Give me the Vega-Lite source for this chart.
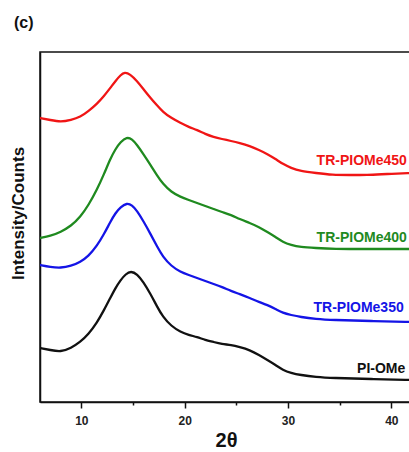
{
  "$schema": "https://vega.github.io/schema/vega-lite/v6.json",
  "autosize": "none",
  "width": 372,
  "height": 350,
  "padding": {"left": 40, "top": 52, "right": 0, "bottom": 50},
  "background": "white",
  "title": {"text": "(c)", "anchor": "start", "frame": "group", "dx": -26, "offset": 21, "fontSize": 16, "fontWeight": "bold", "font": "Liberation Sans", "color": "#111"},
  "config": {
    "font": "Liberation Sans",
    "view": {"stroke": "#111", "strokeWidth": 1.5},
    "axis": {"grid": false, "domainColor": "#111", "domainWidth": 1.5, "tickColor": "#111", "tickWidth": 1.5}
  },
  "datasets": {
    "curves": [
      {"sample":"TR-PIOMe450","two_theta":6,"intensity":284},{"sample":"TR-PIOMe450","two_theta":7,"intensity":282},{"sample":"TR-PIOMe450","two_theta":8,"intensity":280},{"sample":"TR-PIOMe450","two_theta":9,"intensity":282},{"sample":"TR-PIOMe450","two_theta":9.9,"intensity":285},{"sample":"TR-PIOMe450","two_theta":10.7,"intensity":291},{"sample":"TR-PIOMe450","two_theta":11.5,"intensity":298},{"sample":"TR-PIOMe450","two_theta":12.2,"intensity":306},{"sample":"TR-PIOMe450","two_theta":12.8,"intensity":314},{"sample":"TR-PIOMe450","two_theta":13.3,"intensity":321},{"sample":"TR-PIOMe450","two_theta":13.8,"intensity":327},{"sample":"TR-PIOMe450","two_theta":14.2,"intensity":330},{"sample":"TR-PIOMe450","two_theta":14.7,"intensity":328},{"sample":"TR-PIOMe450","two_theta":15.4,"intensity":321},{"sample":"TR-PIOMe450","two_theta":16.0,"intensity":313},{"sample":"TR-PIOMe450","two_theta":16.7,"intensity":304},{"sample":"TR-PIOMe450","two_theta":17.3,"intensity":297},{"sample":"TR-PIOMe450","two_theta":17.9,"intensity":290},{"sample":"TR-PIOMe450","two_theta":18.7,"intensity":284},{"sample":"TR-PIOMe450","two_theta":19.6,"intensity":279},{"sample":"TR-PIOMe450","two_theta":20.4,"intensity":275},{"sample":"TR-PIOMe450","two_theta":21.2,"intensity":272},{"sample":"TR-PIOMe450","two_theta":22.0,"intensity":268},{"sample":"TR-PIOMe450","two_theta":22.8,"intensity":265},{"sample":"TR-PIOMe450","two_theta":23.6,"intensity":263},{"sample":"TR-PIOMe450","two_theta":24.5,"intensity":261},{"sample":"TR-PIOMe450","two_theta":25.3,"intensity":259},{"sample":"TR-PIOMe450","two_theta":26.3,"intensity":256},{"sample":"TR-PIOMe450","two_theta":27.2,"intensity":252},{"sample":"TR-PIOMe450","two_theta":28.0,"intensity":248},{"sample":"TR-PIOMe450","two_theta":28.8,"intensity":243},{"sample":"TR-PIOMe450","two_theta":29.5,"intensity":238},{"sample":"TR-PIOMe450","two_theta":30.3,"intensity":234},{"sample":"TR-PIOMe450","two_theta":31.2,"intensity":231},{"sample":"TR-PIOMe450","two_theta":32.7,"intensity":229},{"sample":"TR-PIOMe450","two_theta":34.3,"intensity":227},{"sample":"TR-PIOMe450","two_theta":36,"intensity":227},{"sample":"TR-PIOMe450","two_theta":37.6,"intensity":227},{"sample":"TR-PIOMe450","two_theta":39.5,"intensity":228},{"sample":"TR-PIOMe450","two_theta":42,"intensity":229},
      {"sample":"TR-PIOMe400","two_theta":6,"intensity":164},{"sample":"TR-PIOMe400","two_theta":7,"intensity":166},{"sample":"TR-PIOMe400","two_theta":8,"intensity":170},{"sample":"TR-PIOMe400","two_theta":9,"intensity":176},{"sample":"TR-PIOMe400","two_theta":9.9,"intensity":185},{"sample":"TR-PIOMe400","two_theta":10.7,"intensity":197},{"sample":"TR-PIOMe400","two_theta":11.5,"intensity":212},{"sample":"TR-PIOMe400","two_theta":12.2,"intensity":228},{"sample":"TR-PIOMe400","two_theta":12.8,"intensity":243},{"sample":"TR-PIOMe400","two_theta":13.3,"intensity":253},{"sample":"TR-PIOMe400","two_theta":13.8,"intensity":260},{"sample":"TR-PIOMe400","two_theta":14.4,"intensity":265},{"sample":"TR-PIOMe400","two_theta":14.9,"intensity":263},{"sample":"TR-PIOMe400","two_theta":15.4,"intensity":257},{"sample":"TR-PIOMe400","two_theta":16.0,"intensity":248},{"sample":"TR-PIOMe400","two_theta":16.7,"intensity":237},{"sample":"TR-PIOMe400","two_theta":17.3,"intensity":227},{"sample":"TR-PIOMe400","two_theta":17.9,"intensity":218},{"sample":"TR-PIOMe400","two_theta":18.7,"intensity":210},{"sample":"TR-PIOMe400","two_theta":19.6,"intensity":205},{"sample":"TR-PIOMe400","two_theta":20.4,"intensity":202},{"sample":"TR-PIOMe400","two_theta":21.2,"intensity":199},{"sample":"TR-PIOMe400","two_theta":22.0,"intensity":196},{"sample":"TR-PIOMe400","two_theta":22.8,"intensity":193},{"sample":"TR-PIOMe400","two_theta":23.6,"intensity":190},{"sample":"TR-PIOMe400","two_theta":24.5,"intensity":187},{"sample":"TR-PIOMe400","two_theta":25.3,"intensity":183},{"sample":"TR-PIOMe400","two_theta":26.3,"intensity":179},{"sample":"TR-PIOMe400","two_theta":27.2,"intensity":175},{"sample":"TR-PIOMe400","two_theta":28.0,"intensity":170},{"sample":"TR-PIOMe400","two_theta":28.8,"intensity":165},{"sample":"TR-PIOMe400","two_theta":29.5,"intensity":160},{"sample":"TR-PIOMe400","two_theta":30.3,"intensity":157},{"sample":"TR-PIOMe400","two_theta":31.2,"intensity":155},{"sample":"TR-PIOMe400","two_theta":32.7,"intensity":154},{"sample":"TR-PIOMe400","two_theta":34.3,"intensity":153},{"sample":"TR-PIOMe400","two_theta":38,"intensity":153},{"sample":"TR-PIOMe400","two_theta":42,"intensity":153},
      {"sample":"TR-PIOMe350","two_theta":6,"intensity":137},{"sample":"TR-PIOMe350","two_theta":7,"intensity":135},{"sample":"TR-PIOMe350","two_theta":8,"intensity":134},{"sample":"TR-PIOMe350","two_theta":9,"intensity":136},{"sample":"TR-PIOMe350","two_theta":9.9,"intensity":140},{"sample":"TR-PIOMe350","two_theta":10.7,"intensity":146},{"sample":"TR-PIOMe350","two_theta":11.5,"intensity":156},{"sample":"TR-PIOMe350","two_theta":12.2,"intensity":168},{"sample":"TR-PIOMe350","two_theta":12.8,"intensity":180},{"sample":"TR-PIOMe350","two_theta":13.3,"intensity":189},{"sample":"TR-PIOMe350","two_theta":13.8,"intensity":195},{"sample":"TR-PIOMe350","two_theta":14.4,"intensity":199},{"sample":"TR-PIOMe350","two_theta":14.9,"intensity":197},{"sample":"TR-PIOMe350","two_theta":15.4,"intensity":191},{"sample":"TR-PIOMe350","two_theta":16.0,"intensity":181},{"sample":"TR-PIOMe350","two_theta":16.7,"intensity":168},{"sample":"TR-PIOMe350","two_theta":17.3,"intensity":156},{"sample":"TR-PIOMe350","two_theta":17.9,"intensity":145},{"sample":"TR-PIOMe350","two_theta":18.7,"intensity":136},{"sample":"TR-PIOMe350","two_theta":19.6,"intensity":130},{"sample":"TR-PIOMe350","two_theta":20.4,"intensity":127},{"sample":"TR-PIOMe350","two_theta":21.2,"intensity":124},{"sample":"TR-PIOMe350","two_theta":22.0,"intensity":121},{"sample":"TR-PIOMe350","two_theta":22.8,"intensity":118},{"sample":"TR-PIOMe350","two_theta":23.6,"intensity":115},{"sample":"TR-PIOMe350","two_theta":24.5,"intensity":111},{"sample":"TR-PIOMe350","two_theta":25.3,"intensity":108},{"sample":"TR-PIOMe350","two_theta":26.3,"intensity":104},{"sample":"TR-PIOMe350","two_theta":27.2,"intensity":100},{"sample":"TR-PIOMe350","two_theta":28.0,"intensity":97},{"sample":"TR-PIOMe350","two_theta":28.8,"intensity":93},{"sample":"TR-PIOMe350","two_theta":29.5,"intensity":89},{"sample":"TR-PIOMe350","two_theta":30.3,"intensity":87},{"sample":"TR-PIOMe350","two_theta":31.2,"intensity":85},{"sample":"TR-PIOMe350","two_theta":32.7,"intensity":83},{"sample":"TR-PIOMe350","two_theta":34.3,"intensity":82},{"sample":"TR-PIOMe350","two_theta":38,"intensity":81},{"sample":"TR-PIOMe350","two_theta":42,"intensity":80},
      {"sample":"PI-OMe","two_theta":6,"intensity":54},{"sample":"PI-OMe","two_theta":7,"intensity":52},{"sample":"PI-OMe","two_theta":8,"intensity":50},{"sample":"PI-OMe","two_theta":9,"intensity":54},{"sample":"PI-OMe","two_theta":9.9,"intensity":60},{"sample":"PI-OMe","two_theta":10.7,"intensity":68},{"sample":"PI-OMe","two_theta":11.5,"intensity":79},{"sample":"PI-OMe","two_theta":12.2,"intensity":92},{"sample":"PI-OMe","two_theta":12.8,"intensity":104},{"sample":"PI-OMe","two_theta":13.3,"intensity":114},{"sample":"PI-OMe","two_theta":13.8,"intensity":122},{"sample":"PI-OMe","two_theta":14.3,"intensity":128},{"sample":"PI-OMe","two_theta":14.8,"intensity":131},{"sample":"PI-OMe","two_theta":15.4,"intensity":128},{"sample":"PI-OMe","two_theta":16.0,"intensity":120},{"sample":"PI-OMe","two_theta":16.7,"intensity":108},{"sample":"PI-OMe","two_theta":17.3,"intensity":96},{"sample":"PI-OMe","two_theta":17.9,"intensity":85},{"sample":"PI-OMe","two_theta":18.7,"intensity":76},{"sample":"PI-OMe","two_theta":19.6,"intensity":70},{"sample":"PI-OMe","two_theta":20.4,"intensity":67},{"sample":"PI-OMe","two_theta":21.2,"intensity":65},{"sample":"PI-OMe","two_theta":22.0,"intensity":62},{"sample":"PI-OMe","two_theta":22.8,"intensity":60},{"sample":"PI-OMe","two_theta":23.6,"intensity":58},{"sample":"PI-OMe","two_theta":24.5,"intensity":57},{"sample":"PI-OMe","two_theta":25.3,"intensity":55},{"sample":"PI-OMe","two_theta":26.3,"intensity":52},{"sample":"PI-OMe","two_theta":27.2,"intensity":47},{"sample":"PI-OMe","two_theta":28.0,"intensity":42},{"sample":"PI-OMe","two_theta":28.8,"intensity":37},{"sample":"PI-OMe","two_theta":29.5,"intensity":32},{"sample":"PI-OMe","two_theta":30.3,"intensity":29},{"sample":"PI-OMe","two_theta":31.2,"intensity":27},{"sample":"PI-OMe","two_theta":32.7,"intensity":25},{"sample":"PI-OMe","two_theta":34.3,"intensity":24},{"sample":"PI-OMe","two_theta":38,"intensity":23},{"sample":"PI-OMe","two_theta":42,"intensity":22}
    ],
    "labels": [
      {"sample":"TR-PIOMe450","two_theta":41.5,"intensity":241},
      {"sample":"TR-PIOMe400","two_theta":41.5,"intensity":164},
      {"sample":"TR-PIOMe350","two_theta":41.2,"intensity":94},
      {"sample":"PI-OMe","two_theta":41.35,"intensity":33}
    ]
  },
  "encoding": {
    "x": {"field": "two_theta", "type": "quantitative", "scale": {"domain": [6, 42], "nice": false, "zero": false},
      "axis": {"values": [10, 15, 20, 25, 30, 35, 40], "labelExpr": "datum.value % 10 === 0 ? datum.label : ''",
        "tickSize": {"condition": {"test": "datum.value % 10 === 0", "value": 6}, "value": 3},
        "labelPadding": 7, "labelFontSize": 12, "labelFontWeight": "bold", "labelColor": "#222",
        "title": "2θ", "titleFontSize": 20, "titleFontWeight": "bold", "titleColor": "#111", "titlePadding": 4}},
    "y": {"field": "intensity", "type": "quantitative", "scale": {"domain": [0, 350], "nice": false},
      "axis": {"labels": false, "ticks": false, "title": "Intensity/Counts", "titleFontSize": 17, "titleFontWeight": "bold", "titleColor": "#111",
        "titleX": -22, "titleY": 161, "titleAlign": "center", "titleBaseline": "middle", "titleAngle": 270}}
  },
  "layer": [
    {
      "data": {"name": "curves"},
      "mark": {"type": "line", "interpolate": "basis", "strokeWidth": 2.3, "clip": true},
      "encoding": {
        "color": {"field": "sample", "type": "nominal", "legend": null,
          "scale": {"domain": ["TR-PIOMe450", "TR-PIOMe400", "TR-PIOMe350", "PI-OMe"], "range": ["#f01515", "#1f8a1f", "#1414e6", "#111111"]}},
        "detail": {"field": "sample"}
      }
    },
    {
      "data": {"name": "labels"},
      "mark": {"type": "text", "align": "right", "baseline": "middle", "fontSize": 14, "fontWeight": "bold"},
      "encoding": {
        "text": {"field": "sample"},
        "color": {"field": "sample", "type": "nominal", "legend": null,
          "scale": {"domain": ["TR-PIOMe450", "TR-PIOMe400", "TR-PIOMe350", "PI-OMe"], "range": ["#f01515", "#1f8a1f", "#1414e6", "#111111"]}}
      }
    }
  ]
}
